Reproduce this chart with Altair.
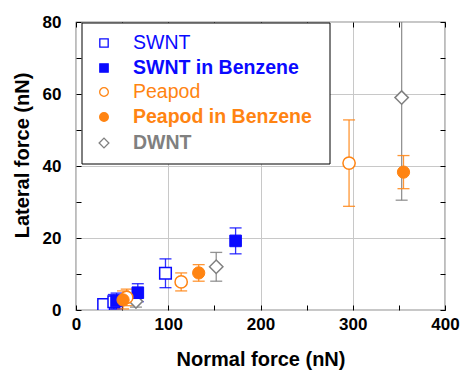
import altair as alt
import pandas as pd

# ---------------- data ----------------
series_names = ["SWNT", "SWNT in Benzene", "Peapod", "Peapod in Benzene", "DWNT"]

swnt_x = [30, 41, 97]
swnt_y = [1.5, 2.3, 10.2]
swnt_err = [1.2, 2.0, 4.0]

swntb_x = [44, 67, 173]
swntb_y = [2.5, 4.8, 19.2]
swntb_err = [2.2, 2.5, 3.6]

pea_x = [55, 114, 296]
pea_y = [3.5, 7.8, 40.8]
pea_err = [2.3, 2.5, 12.0]

peab_x = [51, 133, 355]
peab_y = [2.8, 10.3, 38.3]
peab_err = [2.5, 2.3, 4.6]

dwnt_x = [65, 152, 353]
dwnt_y = [2.4, 12.0, 59.0]
dwnt_err = [1.6, 4.0, 28.5]

x_labels = [0, 100, 200, 300, 400]
x_minor = [0, 50, 100, 150, 200, 250, 300, 350, 400]
y_labels = [0, 20, 40, 60, 80]
y_minor = [0, 10, 20, 30, 40, 50, 60, 70, 80]

# ---------------- styles ----------------
BLUE = "#0a0aff"
ORANGE = "#ff8412"
GREY = "#808080"
colors = {"SWNT": BLUE, "SWNT in Benzene": BLUE, "Peapod": ORANGE,
          "Peapod in Benzene": ORANGE, "DWNT": GREY}
shapes = {"SWNT": "square", "SWNT in Benzene": "square", "Peapod": "circle",
          "Peapod in Benzene": "circle", "DWNT": "diamond"}
filled = {"SWNT": False, "SWNT in Benzene": True, "Peapod": False,
          "Peapod in Benzene": True, "DWNT": False}
sizes = {"square": 135, "circle": 150, "diamond": 180}
leg_sizes = {"square": 70, "circle": 75, "diamond": 95}
weights = {"SWNT": "normal", "SWNT in Benzene": "bold", "Peapod": "normal",
           "Peapod in Benzene": "bold", "DWNT": "bold"}
FONT = "Liberation Sans"
W, H = 369, 288

raw = {
    "SWNT": (swnt_x, swnt_y, swnt_err),
    "SWNT in Benzene": (swntb_x, swntb_y, swntb_err),
    "Peapod": (pea_x, pea_y, pea_err),
    "Peapod in Benzene": (peab_x, peab_y, peab_err),
    "DWNT": (dwnt_x, dwnt_y, dwnt_err),
}
rows = []
for s in series_names:
    xs_, ys_, es_ = raw[s]
    for xv, yv, ev in zip(xs_, ys_, es_):
        rows.append({"series": s, "x": xv, "y": yv, "lo": yv - ev, "hi": yv + ev})
df = pd.DataFrame(rows)

xscale = alt.Scale(domain=[0, 400], nice=False, zero=False)
yscale = alt.Scale(domain=[0, 80], nice=False, zero=False)

x_axis = alt.Axis(values=x_labels, grid=True, gridColor="#c8c8c8", gridWidth=1,
                  ticks=False, domain=False, labelFont=FONT, labelFontSize=17,
                  labelFontWeight="bold", labelColor="black", labelPadding=6,
                  labelFlush=False, labelOverlap=False,
                  titleFont=FONT, titleFontSize=20, titleFontWeight="bold",
                  titleColor="black", titleBaseline="alphabetic", titleY=55)
y_axis = alt.Axis(values=y_labels, grid=True, gridColor="#c8c8c8", gridWidth=1,
                  ticks=False, domain=False, labelFont=FONT, labelFontSize=17,
                  labelFontWeight="bold", labelColor="black", labelPadding=15,
                  labelFlush=False, labelOverlap=False,
                  titleFont=FONT, titleFontSize=20, titleFontWeight="bold",
                  titleColor="black", titleAngle=270, titleAlign="center",
                  titleBaseline="alphabetic", titleX=-48, titleY=133)

X = alt.X("x:Q", scale=xscale, axis=x_axis, title="Normal force (nN)")
def Yf(field):
    return alt.Y(f"{field}:Q", scale=yscale, axis=y_axis, title="Lateral force (nN)")

color_enc = alt.Color("series:N", scale=alt.Scale(domain=series_names,
                      range=[colors[s] for s in series_names]), legend=None)

base = alt.Chart(df)
rules = base.mark_rule(strokeWidth=1.3, opacity=0.85, clip=True).encode(
    x=X, y=Yf("lo"), y2="hi:Q", color=color_enc)
cap_lo = base.mark_tick(orient="horizontal", size=12, thickness=1.3,
                        opacity=0.85, clip=True).encode(x=X, y=Yf("lo"), color=color_enc)
cap_hi = base.mark_tick(orient="horizontal", size=12, thickness=1.3,
                        opacity=0.85, clip=True).encode(x=X, y=Yf("hi"), color=color_enc)

draw_order = ["DWNT", "SWNT", "SWNT in Benzene", "Peapod", "Peapod in Benzene"]
points = []
for s in draw_order:
    c = colors[s]
    shp = shapes[s]
    mk = alt.Chart(df[df["series"] == s]).mark_point(
        shape=shp, filled=True, size=sizes[shp],
        fill=c if filled[s] else "white", stroke=c,
        strokeWidth=1.5 if not filled[s] else 1, opacity=1, clip=True)
    points.append(mk.encode(x=X, y=Yf("y")))

# ---------------- legend (drawn box) ----------------
dummy = pd.DataFrame({"k": [0]})
leg_box = alt.Chart(dummy).mark_rect(fill="white", stroke="black", strokeWidth=1).encode(
    x=alt.value(6), x2=alt.value(254), y=alt.value(1), y2=alt.value(142))
leg_layers = [leg_box]
leg_y = [21, 46, 70, 95, 121]
for s, ly in zip(series_names, leg_y):
    c = colors[s]
    shp = shapes[s]
    leg_layers.append(alt.Chart(dummy).mark_point(
        shape=shp, filled=True, size=leg_sizes[shp],
        fill=c if filled[s] else "white", stroke=c,
        strokeWidth=1.3, opacity=1).encode(x=alt.value(28), y=alt.value(ly)))
    leg_layers.append(alt.Chart(dummy).mark_text(
        text=s, align="left", baseline="middle", font=FONT, fontSize=19.5,
        fontWeight=weights[s], color=c).encode(x=alt.value(57), y=alt.value(ly)))

main = alt.layer(rules, cap_lo, cap_hi, *points, *leg_layers)

# ---------------- inward ticks on all four sides ----------------
tick_df = pd.DataFrame({"x": [0], "y": [0]})
def tick_axis(orient, offset, values):
    return alt.Axis(orient=orient, offset=offset, values=values, labels=False,
                    grid=False, domain=False, ticks=True, tickSize=5,
                    tickColor="black", tickWidth=1, title=None)

ticks_a = alt.Chart(tick_df).mark_point(opacity=0).encode(
    x=alt.X("x:Q", scale=xscale, axis=tick_axis("top", -H, x_minor)),
    y=alt.Y("y:Q", scale=yscale, axis=tick_axis("right", -W, y_minor)))
ticks_b = alt.Chart(tick_df).mark_point(opacity=0).encode(
    x=alt.X("x:Q", scale=xscale, axis=tick_axis("bottom", -H, x_minor)),
    y=alt.Y("y:Q", scale=yscale, axis=tick_axis("left", -W, y_minor)))

chart = alt.layer(main, ticks_a, ticks_b).resolve_scale(
    x="independent", y="independent"
).properties(
    width=W, height=H,
    padding={"left": 76, "top": 22, "right": 17, "bottom": 60},
    autosize=alt.AutoSizeParams(type="none"),
    background="white",
).configure_view(stroke="#222222", strokeWidth=1.2)

chart.save("out.html", embed_options={"renderer": "svg", "actions": False})
